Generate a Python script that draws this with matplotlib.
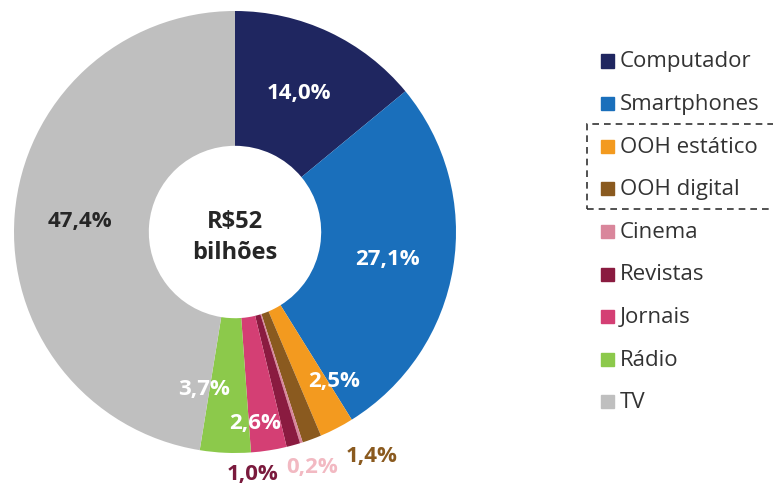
import matplotlib.pyplot as plt
from matplotlib.patches import Rectangle

plt.rcParams['font.family'] = ['Open Sans', 'DejaVu Sans']

# share of ad spend by medium (%), clockwise from 12 o'clock
media = ['Computador', 'Smartphones', 'OOH estático', 'OOH digital', 'Cinema',
         'Revistas', 'Jornais', 'Rádio', 'TV']
share = [14.0, 27.1, 2.5, 1.4, 0.2, 1.0, 2.6, 3.7, 47.4]
colors = ['#1f2660', '#1a6fbb', '#f39a1f', '#8a5a1f', '#d9869b',
          '#8a1b40', '#d43f74', '#8cc94b', '#bfbfbf']
total_label = 'R$52\nbilhões'

# where each percentage label goes (pie units) and its colour
label_xy = [(0.29, 0.63), (0.69, -0.12), (0.45, -0.67), (0.62, -1.01), (0.35, -1.06),
            (0.08, -1.095), (0.09, -0.86), (-0.14, -0.71), (-0.70, 0.05)]
label_col = ['white', 'white', 'white', '#8a5a1f', '#f2b9c2',
             '#7a1a3d', 'white', 'white', '#262626']

fig = plt.figure(figsize=(7.73, 4.89), dpi=100)
ax = fig.add_axes([14/773, 35/489, 442/773, 442/489])

ax.pie(share, colors=colors, startangle=90, counterclock=False,
       wedgeprops=dict(width=0.61, edgecolor='none'))
ax.set_xlim(-1, 1)
ax.set_ylim(-1, 1)
ax.set_aspect('equal')

for v, (x, y), c in zip(share, label_xy, label_col):
    ax.text(x, y, f'{v:.1f}%'.replace('.', ','), color=c, fontsize=16,
            fontweight='bold', ha='center', va='center', clip_on=False)

ax.text(0, -0.02, total_label, ha='center', va='center', fontsize=17,
        fontweight='bold', color='#262626', linespacing=1.35)

# legend drawn by hand: squares + names
W, H = 773, 489
for i, (name, c) in enumerate(zip(media, colors)):
    yc = 62 + i * 42.6
    fig.patches.append(Rectangle((601 / W, 1 - (yc + 6.5) / H), 13 / W, 13 / H,
                                 transform=fig.transFigure, color=c))
    fig.text(620 / W, 1 - yc / H, name, fontsize=16, color='#333333',
             va='center', ha='left')

# dashed box around the two OOH entries
fig.patches.append(Rectangle((587 / W, 1 - 210 / H), 200 / W, 85 / H,
                             transform=fig.transFigure, fill=False,
                             edgecolor='#333333', linestyle=(0, (4, 3)), linewidth=1.2))

fig.savefig('out.png', dpi=100)
